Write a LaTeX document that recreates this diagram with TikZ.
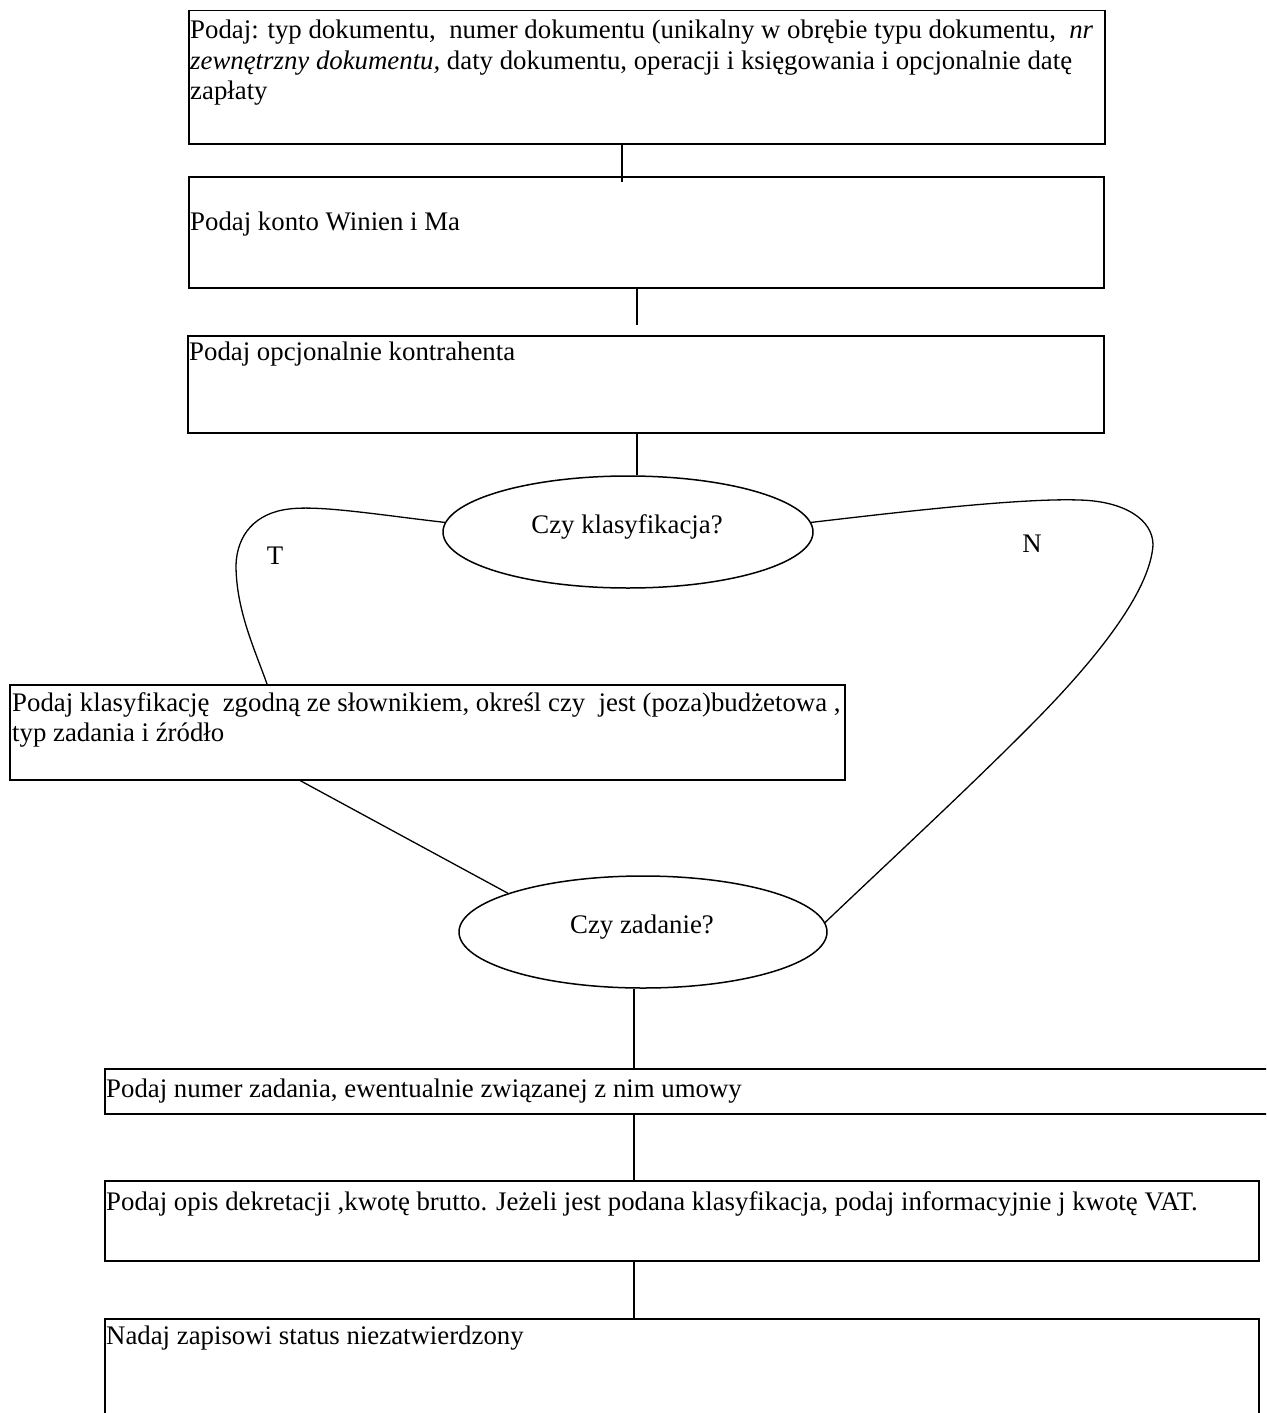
\documentclass[tikz,border=0pt]{standalone}
\usepackage{fontspec}
\setmainfont{Liberation Serif}
\usetikzlibrary{shapes.geometric}
\begin{document}
\begin{tikzpicture}[x=1pt,y=-1pt,
  box/.style={draw, line width=1.5pt, rectangle, anchor=north west, inner sep=0pt},
  dec/.style={draw, ellipse, line width=1.5pt, inner sep=0pt},
  txt/.style={anchor=north west, inner sep=0pt, font=\fontsize{26.8}{30.5}\selectfont, align=left},
  ctxt/.style={anchor=base, inner sep=0pt, font=\fontsize{26.8}{30.5}\selectfont},
  conn/.style={line width=1.3pt}]
\clip (0,0) rectangle (1266,1413);
\fill[white] (0,0) rectangle (1266,1413);

% boxes
\node[box, minimum width=916pt, minimum height=133pt] (b1) at (188,10) {};
\node[box, minimum width=915pt, minimum height=111pt] (b2) at (188,176) {};
\node[box, minimum width=916pt, minimum height=97pt] (b3) at (187,335) {};
\node[box, minimum width=835pt, minimum height=95pt] (b4) at (9,684) {};
\node[box, minimum width=1200pt, minimum height=45pt] (b5) at (104,1068) {};
\node[box, minimum width=1154pt, minimum height=80pt] (b6) at (104,1180) {};
\node[box, minimum width=1154pt, minimum height=130pt] (b7) at (104,1318) {};

% decisions
\node[dec, minimum width=370pt, minimum height=112pt] (e1) at (628,532) {};
\node[dec, minimum width=368pt, minimum height=112pt] (e2) at (643,932) {};

% texts
\node[txt] (t1) at (190,20) {Podaj: typ dokumentu,\ \ numer dokumentu (unikalny w obrębie typu dokumentu,\ \ \textit{nr}\\
\textit{zewnętrzny dokumentu,} daty dokumentu, operacji i księgowania i opcjonalnie datę\\
zapłaty};
\node[txt] (t2) at (190,212) {Podaj konto Winien i Ma};
\node[txt] (t3) at (189,342) {Podaj opcjonalnie kontrahenta};
\node[ctxt] (te1) at (627,533) {Czy klasyfikacja?};
\node[ctxt] (tT) at (275,564) {T};
\node[ctxt] (tN) at (1032,552) {N};
\node[txt] (t4) at (12,692) {Podaj klasyfikację\ \ zgodną ze słownikiem, określ czy\ \ jest (poza)budżetowa ,\\
typ zadania i źródło};
\node[ctxt] (te2) at (642,933) {Czy zadanie?};
\node[txt] (t5) at (106,1079) {Podaj numer zadania, ewentualnie związanej z nim umowy};
\node[txt] (t6) at (106,1191) {Podaj opis dekretacji ,kwotę brutto. Jeżeli jest podana klasyfikacja, podaj informacyjnie j kwotę VAT.};
\node[txt] (t7) at (106,1326) {Nadaj zapisowi status niezatwierdzony};

% column coordinates
\coordinate (colA) at (622,0);
\coordinate (colB) at (637,0);
\coordinate (colC) at (634,0);
\coordinate (colT) at (267,0);
\coordinate (colD) at (300,0);
\coordinate (c2end) at (637,325);

% connectors
\draw[conn] (b1.south -| colA) -- (b2.north -| colA) -- ++(0,6);
\draw[conn] (b2.south -| colB) -- (c2end);
\draw[conn] (b3.south -| colB) -- (e1.north -| colB);
\draw[conn] (e1.177) .. controls (380,515) and (320,505) .. (289,509)
  .. controls (255,513) and (237,535) .. (236,565)
  .. controls (236,610) and (255,650) .. (b4.north -| colT);
\draw[conn] (e1.3) .. controls (900,512) and (1020,498) .. (1079,500)
  .. controls (1125,501) and (1153,520) .. (1153,545)
  .. controls (1150,592) and (1095,660) .. (1036,720)
  .. controls (970,787) and (880,870) .. (e2.3);
\draw[conn] (b4.south -| colD) -- (e2.164);
\draw[conn] (e2.south -| colC) -- (b5.north -| colC);
\draw[conn] (b5.south -| colC) -- (b6.north -| colC);
\draw[conn] (b6.south -| colC) -- (b7.north -| colC);
\end{tikzpicture}
\end{document}
